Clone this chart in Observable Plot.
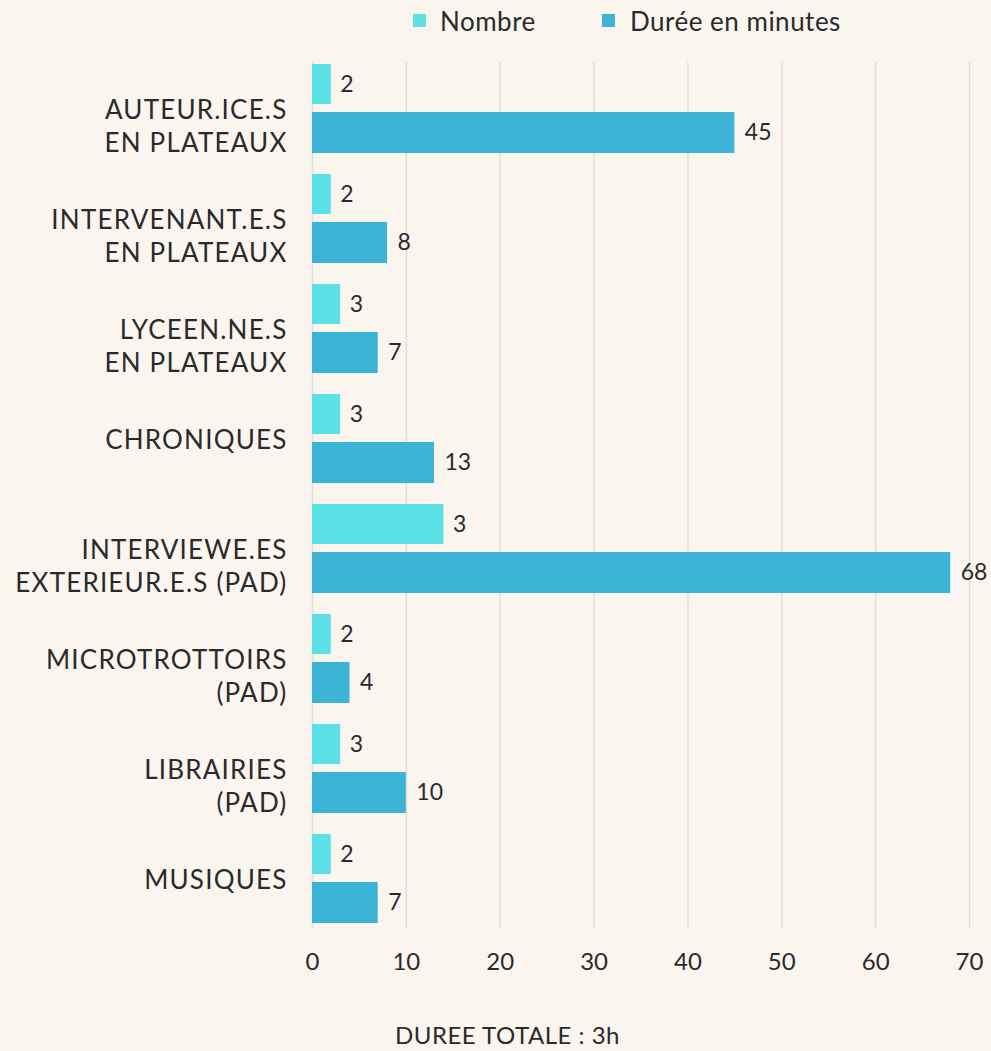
<!DOCTYPE html>
<html>
<head>
<meta charset="utf-8">
<script src="https://cdn.jsdelivr.net/npm/d3@7"></script>
<script src="https://cdn.jsdelivr.net/npm/@observablehq/plot@0.6"></script>
<style>
html, body { margin: 0; padding: 0; background: #FAF5EF; }
#wrap { position: relative; width: 991px; height: 1051px; overflow: hidden; font-family: Lato, sans-serif; color: #2a2a2a; background: #FAF5EF; }
#legend { position: absolute; top: 0; left: 0; width: 991px; height: 40px; }
.sw { position: absolute; top: 14px; width: 13px; height: 13px; }
.lt { position: absolute; top: 4px; font-size: 26px; line-height: 34px; white-space: nowrap; letter-spacing: 0.5px; }
#chart { position: absolute; top: 40px; left: 0; }
#caption { position: absolute; top: 1020px; left: 395px; font-size: 24px; line-height: 30px; white-space: nowrap; letter-spacing: 0.5px; }
</style>
</head>
<body>
<div id="wrap">
  <div id="legend"></div>
  <div id="chart"></div>
  <div id="caption"></div>
</div>
<script>
// ---- data ----
const categories = [
  "AUTEUR.ICE.S\nEN PLATEAUX",
  "INTERVENANT.E.S\nEN PLATEAUX",
  "LYCEEN.NE.S\nEN PLATEAUX",
  "CHRONIQUES",
  "INTERVIEWE.ES\nEXTERIEUR.E.S (PAD)",
  "MICROTROTTOIRS\n(PAD)",
  "LIBRAIRIES\n(PAD)",
  "MUSIQUES"
];
const nombre = [2, 2, 3, 3, 14, 2, 3, 2];          // bar lengths as drawn
const nombreLabels = [2, 2, 3, 3, 3, 2, 3, 2];     // printed values
const duree = [45, 8, 7, 13, 68, 4, 10, 7];
const xTicks = [0, 10, 20, 30, 40, 50, 60, 70];
const seriesNames = ["Nombre", "Durée en minutes"];
const seriesColors = ["#5CE1E6", "#3BB4D8"];
const captionText = "DUREE TOTALE : 3h";

// ---- legend ----
const legendPos = [{sw: 413, tx: 440}, {sw: 602, tx: 630}];
const legend = document.getElementById("legend");
seriesNames.forEach((name, i) => {
  const s = document.createElement("div");
  s.className = "sw";
  s.style.left = legendPos[i].sw + "px";
  s.style.background = seriesColors[i];
  legend.appendChild(s);
  const t = document.createElement("div");
  t.className = "lt";
  t.style.left = legendPos[i].tx + "px";
  t.textContent = name;
  legend.appendChild(t);
});

document.getElementById("caption").textContent = captionText;

// ---- chart ----
const rows = categories.map((c, i) => ({cat: c, nombre: nombre[i], label: nombreLabels[i], duree: duree[i]}));
const twoLine = rows.filter(d => d.cat.includes("\n"));
const oneLine = rows.filter(d => !d.cat.includes("\n"));
const textColor = "#2a2a2a";

const chart = Plot.plot({
  width: 991,
  height: 960,
  marginLeft: 312,
  marginRight: 22,
  marginTop: 1,
  marginBottom: 53,
  style: {background: "transparent", fontFamily: "Lato, sans-serif", color: textColor},
  x: {domain: [0, 70], axis: null},
  y: {domain: categories, paddingInner: 0.187, paddingOuter: 0.187, axis: null},
  marks: [
    Plot.ruleX(xTicks, {x: d => d, stroke: "#E2DDD6", strokeWidth: 1.5, insetTop: 21, insetBottom: 19}),
    Plot.barX(rows, {y: "cat", x: "nombre", fill: seriesColors[0], insetBottom: 49}),
    Plot.barX(rows, {y: "cat", x: "duree", fill: seriesColors[1], insetTop: 48}),
    Plot.text(rows, {y: "cat", x: "nombre", text: d => String(d.label), dx: 9, dy: -24.5, textAnchor: "start", fontSize: 23, fill: textColor}),
    Plot.text(rows, {y: "cat", x: "duree", text: d => String(d.duree), dx: 10, dy: 24, textAnchor: "start", fontSize: 23, fill: textColor}),
    Plot.text(twoLine, {y: "cat", frameAnchor: "left", text: "cat", dx: -25, dy: 16, textAnchor: "end", lineHeight: 1.27, fontSize: 26, fill: textColor}),
    Plot.text(oneLine, {y: "cat", frameAnchor: "left", text: "cat", dx: -25, dy: 2, textAnchor: "end", fontSize: 26, fill: textColor}),
    Plot.axisX({ticks: xTicks, tickSize: 0, tickPadding: 5, fontSize: 24, fill: textColor})
  ]
});
// widen the category labels a little (letter spacing)
const catSet = new Set(categories.flatMap(c => c.split("\n")));
d3.select(chart).selectAll("text, tspan")
  .filter(function() { return catSet.has(this.textContent); })
  .style("letter-spacing", "1.2px");
document.getElementById("chart").appendChild(chart);
</script>
</body>
</html>
